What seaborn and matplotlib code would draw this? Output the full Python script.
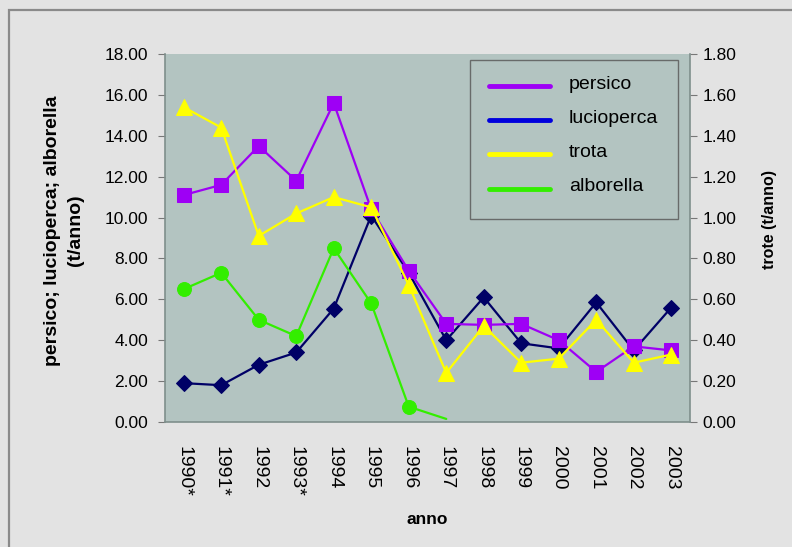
import numpy as np
import pandas as pd
import matplotlib
matplotlib.use("Agg")
import matplotlib.pyplot as plt
from matplotlib.lines import Line2D
from matplotlib.patches import Rectangle
import seaborn as sns

# data
anni = ["1990*", "1991*", "1992", "1993*", "1994", "1995", "1996",
        "1997", "1998", "1999", "2000", "2001", "2002", "2003"]
persico = [11.1, 11.6, 13.5, 11.8, 15.6, 10.4, 7.4, 4.8, 4.75, 4.8, 4.0, 2.45, 3.7, 3.5]
lucioperca = [1.9, 1.8, 2.8, 3.4, 5.55, 10.1, 7.3, 4.0, 6.1, 3.85, 3.6, 5.85, 3.5, 5.6]
alborella = [6.5, 7.3, 5.0, 4.2, 8.5, 5.8, 0.75, 0.15]
trota = [1.54, 1.44, 0.91, 1.02, 1.10, 1.05, 0.67, 0.24, 0.47, 0.29, 0.31, 0.50, 0.29, 0.33]

col_persico = "#9e00f5"
col_lucio = "#000066"
col_trota = "#ffff00"
col_albo = "#33ee00"

sns.set_style("white")
plt.rcParams["font.family"] = ["Liberation Sans", "DejaVu Sans"]
plt.rcParams["text.color"] = "black"
plt.rcParams["axes.labelcolor"] = "black"
plt.rcParams["xtick.color"] = "black"
plt.rcParams["ytick.color"] = "black"

pos = np.arange(len(anni))
df = pd.DataFrame({"pos": pos, "persico": persico, "lucioperca": lucioperca, "trota": trota})
df_albo = pd.DataFrame({"pos": pos[:len(alborella)], "alborella": alborella})

fig = plt.figure(figsize=(7.92, 5.47), dpi=100)
fig.patch.set_facecolor("#e3e3e3")
fig.patches.append(Rectangle((9 / 792, -0.1), 1.2, 1.1 - 10 / 547,
                             transform=fig.transFigure, fill=False,
                             edgecolor="#8a8a8a", linewidth=1.6))

ax = fig.add_axes([165 / 792, 1 - 422 / 547, 525 / 792, 368 / 547])
ax.set_facecolor("#b3c4c1")

sns.lineplot(data=df, x="pos", y="lucioperca", ax=ax, color=col_lucio, marker="D",
             markersize=8.5, markeredgecolor=col_lucio, linewidth=1.6)
sns.lineplot(data=df_albo, x="pos", y="alborella", ax=ax, color=col_albo, marker="o",
             markersize=10, markeredgecolor=col_albo, linewidth=1.6,
             markevery=list(range(7)))
sns.lineplot(data=df, x="pos", y="persico", ax=ax, color=col_persico, marker="s",
             markersize=10.5, markeredgecolor=col_persico, linewidth=1.6)

ax2 = ax.twinx()
sns.lineplot(data=df, x="pos", y="trota", ax=ax2, color=col_trota, marker="^",
             markersize=11, markeredgecolor=col_trota, linewidth=1.6)

ax.set_ylim(0, 18)
ax2.set_ylim(0, 1.8)
ax.set_xlim(-0.5, len(anni) - 0.5)
ax.set_yticks(np.arange(0, 18.1, 2))
ax.set_yticklabels([f"{v:.2f}" for v in np.arange(0, 18.1, 2)], fontsize=12.5)
ax2.set_yticks(np.arange(0, 1.81, 0.2))
ax2.set_yticklabels([f"{v:.2f}" for v in np.arange(0, 1.81, 0.2)], fontsize=12.5)

ax.set_xticks(np.arange(-0.5, len(anni), 1))
ax.set_xticklabels([])
ax.set_xticks(pos, minor=True)
ax.set_xticklabels(anni, minor=True, rotation=-90, fontsize=14)
ax.tick_params(axis="x", which="minor", length=0, pad=17)
ax.tick_params(axis="x", which="major", length=6, color="#777777", direction="inout")
ax.tick_params(axis="y", length=5, color="#777777", direction="out", pad=7)
ax2.tick_params(axis="y", length=5, color="#777777", direction="out", pad=4)

for a in (ax, ax2):
    for s in a.spines.values():
        s.set_visible(False)
ax.spines["left"].set_visible(True)
ax.spines["bottom"].set_visible(True)
ax2.spines["right"].set_visible(True)
for s in (ax.spines["left"], ax.spines["bottom"], ax2.spines["right"]):
    s.set_color("#7f8f8c")
    s.set_linewidth(1.2)

ax.set_xlabel("anno", fontsize=12.5, fontweight="bold")
ax.xaxis.set_label_coords(0.5, (422 - 512) / 368)
ax.set_ylabel("persico; lucioperca; alborella\n(t/anno)", fontsize=14,
              fontweight="bold", linespacing=1.45)
ax.yaxis.set_label_coords(-0.155, 0.52)
ax2.set_ylabel("trote (t/anno)", fontsize=11.5, fontweight="bold")
ax2.yaxis.set_label_coords(1.137, 0.55)

handles = [Line2D([], [], color=c, linewidth=3.5) for c in
           [col_persico, "#0000dd", col_trota, col_albo]]
leg = ax2.legend(handles, ["persico", "lucioperca", "trota", "alborella"],
                 loc="upper right", bbox_to_anchor=(0.977, 0.984), fontsize=14,
                 frameon=True, fancybox=False, handlelength=3.1, handletextpad=1.0,
                 labelspacing=0.85, borderpad=1.0, borderaxespad=0)
leg.get_frame().set_facecolor("#b3c4c1")
leg.get_frame().set_edgecolor("#555555")
leg.get_frame().set_linewidth(1.0)
for t in leg.get_texts():
    t.set_va("bottom")

fig.savefig("out.png", dpi=100, facecolor=fig.get_facecolor())
